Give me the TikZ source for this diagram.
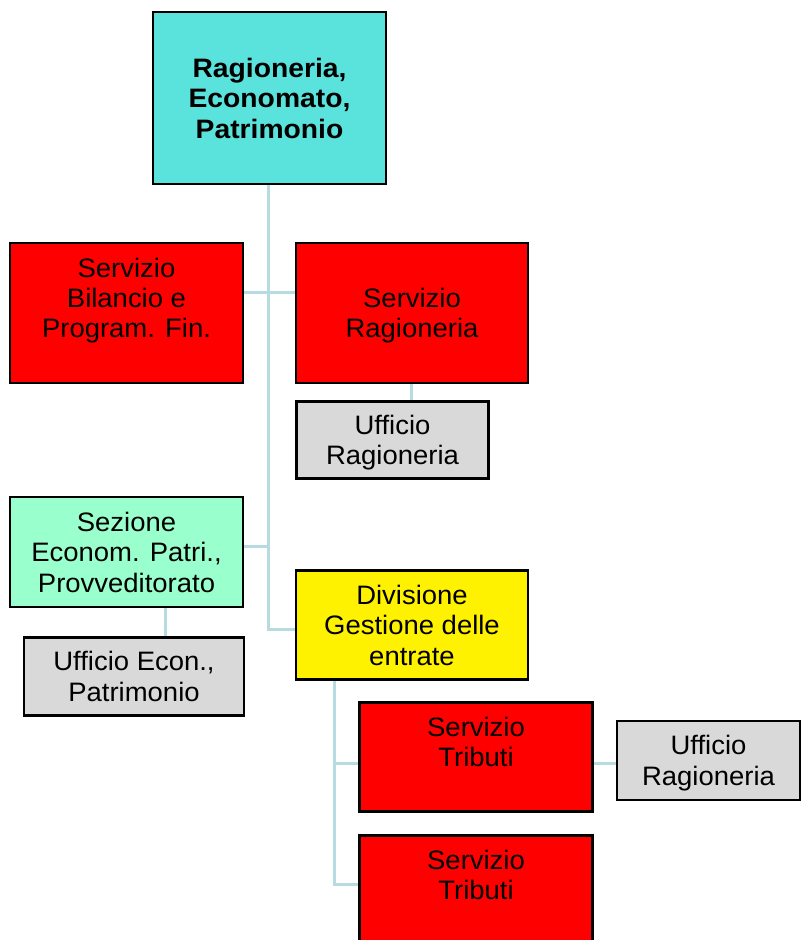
\documentclass[tikz,border=0pt]{standalone}
\usepackage{fontspec}
\setmainfont{Liberation Sans}[FakeStretch=1.03, BoldFeatures={FakeStretch=1.06}]
\usetikzlibrary{backgrounds}

\definecolor{turq}{RGB}{90,227,220}
\definecolor{mint}{RGB}{153,255,204}
\definecolor{greybox}{RGB}{217,217,217}
\definecolor{linkblue}{RGB}{182,220,226}

\tikzset{
  unit/.style={draw=black, line width=2pt, align=center, inner sep=0pt,
               text depth=0pt, font=\fontsize{20}{22.8}\selectfont},
  headunit/.style={unit, fill=turq, font=\fontsize{20}{22.8}\selectfont\bfseries},
  redunit/.style={unit, fill=red},
  greyunit/.style={unit, fill=greybox},
  mintunit/.style={unit, fill=mint},
  yellowunit/.style={unit, fill=yellow},
  link/.style={draw=linkblue, line width=2.25pt}
}

\begin{document}
\begin{tikzpicture}[x=0.75pt,y=-0.75pt]
\useasboundingbox (0,0) rectangle (801,940);
\clip (0,0) rectangle (801,940);

% organisation units
\node[headunit, minimum width=174.75pt, minimum height=129pt] (top) at (269.5,98)
  {Ragioneria,\\Economato,\\Patrimonio};
\node[redunit, minimum width=174.75pt, minimum height=105pt] (bil) at (126.5,313)
  {Servizio\\Bilancio e\\Program. Fin.\\\mbox{}};
\node[redunit, minimum width=174pt, minimum height=105pt] (srag) at (412,313)
  {Servizio\\Ragioneria};
\node[greyunit, minimum width=144pt, minimum height=58pt] (urag) at (392.5,440)
  {Ufficio\\Ragioneria};
\node[mintunit, minimum width=174.75pt, minimum height=82.5pt] (sez) at (126.5,552)
  {Sezione\\Econom. Patri.,\\Provveditorato};
\node[greyunit, minimum width=165pt, minimum height=58.5pt] (uecon) at (134,676.5)
  {Ufficio Econ.,\\Patrimonio};
\node[yellowunit, minimum width=174pt, minimum height=82pt] (div) at (412,625)
  {Divisione\\Gestione delle\\entrate};
\node[redunit, minimum width=174.75pt, minimum height=82pt] (trib1) at (476,757)
  {Servizio\\Tributi\\\mbox{}};
\node[greyunit, minimum width=137.25pt, minimum height=59.25pt] (urag2) at (708.5,760.5)
  {Ufficio\\Ragioneria};
\node[redunit, minimum width=174.75pt, minimum height=82pt] (trib2) at (476,890)
  {Servizio\\Tributi\\\mbox{}};

% junction points of the connector tree
\coordinate (jbil) at (268.5,292);
\coordinate (jsez) at (268.5,546);
\coordinate (jdiv) at (268.5,629);
\coordinate (jecon) at (165,607);
\coordinate (dtop) at (334,680);
\coordinate (jt1) at (334,763);
\coordinate (jt2) at (334,884);

\begin{scope}[on background layer]
  \fill[white] (0,0) rectangle (801,940);
  \draw[link] (top.south -| jbil) -- (jdiv) -- (div.west |- jdiv);
  \draw[link] (bil.east |- jbil) -- (srag.west |- jbil);
  \draw[link] (sez.east |- jsez) -- (jsez);
  \draw[link] (srag.south -| 411.7,0) -- (urag.north -| 411.7,0);
  \draw[link] (jecon) -- (uecon.north -| jecon);
  \draw[link] (dtop) -- (jt2) -- (trib2.west |- jt2);
  \draw[link] (jt1) -- (trib1.west |- jt1);
  \draw[link] (trib1.east |- jt1) -- (urag2.west |- jt1);
\end{scope}
\end{tikzpicture}
\end{document}
